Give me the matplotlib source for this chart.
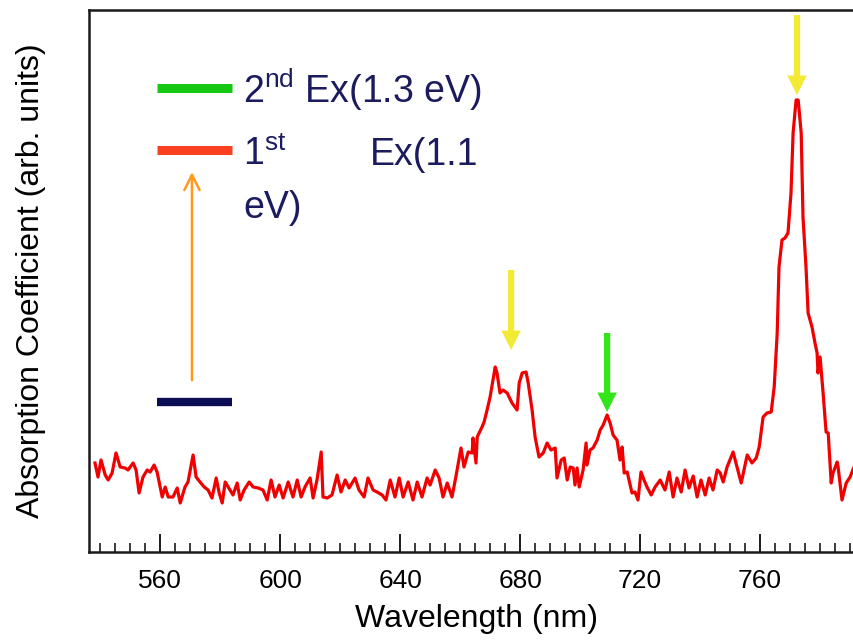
import matplotlib
matplotlib.use('Agg')
import matplotlib.pyplot as plt
from matplotlib.patches import FancyArrowPatch
from matplotlib.ticker import MultipleLocator

plt.rcParams['font.family'] = ['Liberation Sans', 'DejaVu Sans']

# ---------------- data ----------------
wavelength = [
    538.3, 539.3, 540.3, 541.7, 542.7, 544.0, 545.3, 546.7, 548.3, 549.3,
    551.0, 552.0, 553.0, 554.3, 555.7, 556.7, 558.0, 559.0, 560.7, 561.7,
    562.7, 564.3, 565.7, 566.7, 568.3, 569.3, 571.0, 572.0, 573.3, 574.7,
    576.0, 577.3, 578.7, 579.7, 580.7, 581.7, 582.7, 584.3, 585.7, 586.7,
    588.0, 589.7, 591.0, 592.7, 594.3, 595.7, 597.0, 598.3, 599.7, 601.0,
    602.7, 604.3, 605.7, 607.0, 608.3, 610.0, 611.0, 612.3, 613.7, 614.3,
    615.7, 617.3, 619.0, 620.3, 621.7, 623.0, 625.0, 626.3, 628.0, 629.3,
    631.0, 632.3, 634.0, 635.3, 636.7, 638.3, 639.7, 641.0, 642.7, 644.3,
    645.7, 647.3, 649.0, 650.0, 651.7, 653.0, 654.3, 655.7, 657.3, 658.7,
    660.3, 661.3, 662.7, 664.0, 664.3, 665.3, 665.7, 667.3, 668.0, 669.0,
    670.0, 671.7, 672.3, 673.3, 674.3, 675.7, 677.3, 679.0, 679.7, 680.7,
    682.0, 682.7, 684.0, 685.0, 686.3, 687.7, 689.0, 690.3, 691.7, 692.3,
    693.7, 694.7, 695.7, 696.7, 697.7, 698.3, 699.0, 699.7, 701.0, 702.0,
    702.3, 703.3, 704.3, 705.7, 706.7, 707.7, 709.0, 710.0, 711.0, 712.3,
    713.3, 714.0, 714.7, 715.7, 717.3, 718.3, 719.3, 720.3, 721.3, 722.3,
    723.7, 725.0, 726.7,
    728.3, 729.7, 731.0, 732.3, 733.7, 735.0, 736.3, 737.7, 739.0, 740.3,
    741.7, 743.0, 744.3, 745.7,
    746.7, 747.7, 749.0, 751.0, 752.3, 753.7, 755.7, 757.3, 758.7, 759.7,
    761.0, 762.3, 763.7, 764.7, 765.7, 766.3, 767.3, 768.3, 769.3, 770.3,
    771.0, 772.0, 772.7, 773.7, 774.3, 775.3, 776.0, 777.3, 778.3, 779.0,
    779.3, 780.0, 781.0, 782.0, 782.7, 783.7, 784.3, 785.7, 786.0, 787.3,
    788.7, 790.0, 791.3,
]

absorption = [
    0.89, 0.75, 0.92, 0.77, 0.72, 0.79, 0.99, 0.85, 0.84, 0.82,
    0.89, 0.82, 0.59, 0.75, 0.82, 0.80, 0.87, 0.80, 0.55, 0.65,
    0.55, 0.55, 0.64, 0.49, 0.65, 0.70, 0.97, 0.75, 0.70, 0.65,
    0.62, 0.54, 0.74, 0.59, 0.49, 0.70, 0.65, 0.57, 0.69, 0.52,
    0.62, 0.70, 0.65, 0.64, 0.62, 0.52, 0.72, 0.55, 0.67, 0.54,
    0.70, 0.55, 0.72, 0.55, 0.65, 0.74, 0.54, 0.72, 1.00, 0.55,
    0.54, 0.57, 0.77, 0.60, 0.72, 0.64, 0.74, 0.62, 0.55, 0.74,
    0.62, 0.60, 0.57, 0.52, 0.72, 0.55, 0.74, 0.55, 0.70, 0.52,
    0.70, 0.55, 0.74, 0.67, 0.82, 0.74, 0.55, 0.69, 0.55, 0.77,
    1.04, 0.85, 1.00, 0.99, 1.14, 0.89, 1.15, 1.25, 1.30, 1.42,
    1.55, 1.85, 1.79, 1.59, 1.62, 1.59, 1.49, 1.42, 1.69, 1.79,
    1.80, 1.69, 1.42, 1.15, 0.95, 0.99, 1.09, 1.02, 1.04, 0.74,
    0.92, 0.94, 0.72, 0.85, 0.84, 0.67, 0.84, 0.65, 0.82, 1.09,
    0.87, 1.02, 1.04, 1.12, 1.22, 1.27, 1.37, 1.29, 1.17, 1.12,
    0.92, 1.05, 0.79, 0.80, 0.59, 0.60, 0.52, 0.80, 0.72, 0.65,
    0.57, 0.65, 0.72,
    0.62, 0.80, 0.55, 0.74, 0.60, 0.82, 0.64, 0.76, 0.55, 0.72,
    0.57, 0.74, 0.62, 0.82,
    0.79, 0.70, 0.85, 1.00, 0.85, 0.69, 0.97, 0.89, 0.94, 1.05,
    1.35, 1.39, 1.40, 1.65, 2.19, 2.85, 3.12, 3.14, 3.19, 3.59,
    4.19, 4.52, 4.52, 4.19, 3.35, 2.85, 2.39, 2.25, 2.09, 1.99,
    1.79, 1.95, 1.59, 1.20, 1.19, 0.69, 0.79, 0.90, 0.85, 0.52,
    0.69, 0.75, 0.85,
]

xticks = [560, 600, 640, 680, 720, 760]

# peak-marker arrows (wavelength, tip, tail, colour)
arrow_nm = [677.0, 709.0, 772.3]
arrow_tip = [2.02, 1.40, 4.57]
arrow_tail = [2.82, 2.19, 5.37]
arrow_colors = ['#f2ea35', '#33e61a', '#f2ea35']

assert len(wavelength) == len(absorption)

# ---------------- figure ----------------
fig = plt.figure(figsize=(8.54, 6.41), dpi=100)
ax = fig.add_axes([89 / 854, 89 / 641, 765 / 854, 542 / 641])

ax.plot(wavelength, absorption, color='#f00000', lw=2.3,
        solid_joinstyle='round', zorder=3)

ax.set_xlim(536.3, 791.3)
ax.set_ylim(0, 5.42)

ax.spines['right'].set_visible(False)
for s in ['left', 'bottom', 'top']:
    ax.spines[s].set_linewidth(1.8)
    ax.spines[s].set_color('#1a1a1a')

ax.set_yticks([])
ax.set_xticks(xticks)
ax.xaxis.set_minor_locator(MultipleLocator(5))
ax.tick_params(axis='x', which='major', direction='in', length=13, width=1.4,
               pad=12, labelsize=19, color='#1a1a1a')
ax.tick_params(axis='x', which='minor', direction='in', length=6.5, width=1.2,
               color='#1a1a1a')

ax.set_xlabel('Wavelength (nm)', fontsize=23)
ax.xaxis.set_label_coords(0.507, -0.096)
ax.set_ylabel('Absorption Coefficient (arb. units)', fontsize=23)
ax.yaxis.set_label_coords(-0.056, 0.5)

# peak arrows
for x, tip, tail, c in zip(arrow_nm, arrow_tip, arrow_tail, arrow_colors):
    ax.add_patch(FancyArrowPatch(
        (x, tail), (x, tip),
        arrowstyle='simple,head_length=1.0,head_width=1.0,tail_width=0.32',
        mutation_scale=14, color=c, lw=0, shrinkA=0, shrinkB=0,
        clip_on=False, zorder=4))

# energy-level diagram
tr = ax.transAxes
ax.plot([0.0889, 0.187], [0.856, 0.856], transform=tr, color='#14c814',
        lw=6.5, solid_capstyle='butt')
ax.plot([0.0889, 0.187], [0.742, 0.742], transform=tr, color='#fa4020',
        lw=6.5, solid_capstyle='butt')
ax.plot([0.0889, 0.187], [0.277, 0.277], transform=tr, color='#0d0d55',
        lw=6.0, solid_capstyle='butt')
ax.annotate('', xy=(0.1346, 0.701), xytext=(0.1346, 0.317),
            xycoords='axes fraction', textcoords='axes fraction',
            arrowprops=dict(arrowstyle='->,head_length=1.1,head_width=0.55',
                            color='#ff9a1a', lw=1.8, shrinkA=0, shrinkB=0))

txt_color = '#1b1b5e'
fs = 27
ax.text(0.2013, 0.828, r'2$^{\mathregular{nd}}$ Ex(1.3 eV)', transform=tr,
        fontsize=fs, color=txt_color, ha='left', va='baseline')
ax.text(0.2013, 0.714, r'1$^{\mathregular{st}}$', transform=tr,
        fontsize=fs, color=txt_color, ha='left', va='baseline')
ax.text(0.367, 0.714, 'Ex(1.1', transform=tr,
        fontsize=fs, color=txt_color, ha='left', va='baseline')
ax.text(0.2013, 0.616, 'eV)', transform=tr,
        fontsize=fs, color=txt_color, ha='left', va='baseline')

fig.savefig('out.png', dpi=100)
